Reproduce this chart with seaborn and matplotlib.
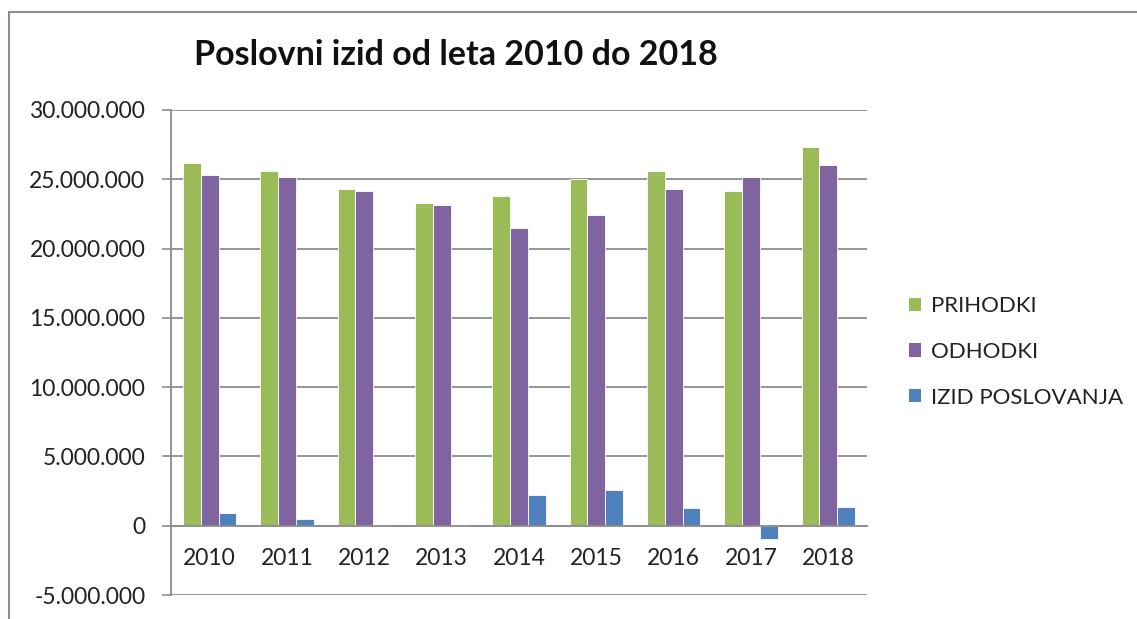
import pandas as pd
import matplotlib.pyplot as plt
import seaborn as sns
from matplotlib.lines import Line2D
from matplotlib.patches import Patch
from matplotlib.ticker import FuncFormatter, MultipleLocator

# Données
years = ['2010', '2011', '2012', '2013', '2014', '2015', '2016', '2017', '2018']
prihodki = [26200000, 25600000, 24300000, 23300000, 23800000, 25000000, 25600000, 24150000, 27300000]
odhodki = [25300000, 25200000, 24150000, 23130000, 21500000, 22400000, 24300000, 25200000, 26000000]
izid = [900000, 450000, 80000, 80000, 2200000, 2550000, 1250000, -950000, 1330000]
series = ['PRIHODKI', 'ODHODKI', 'IZID POSLOVANJA']
colors = ['#9BBB59', '#8064A2', '#4F81BD']

df = pd.DataFrame({'Leto': years * 3,
                   'Serija': [s for s in series for _ in years],
                   'Vrednost': prihodki + odhodki + izid})

sns.set_theme(style="white")
plt.rcParams['font.family'] = ['Lato', 'DejaVu Sans']

fig = plt.figure(figsize=(11.37, 6.19), dpi=100)
ax = fig.add_axes([171 / 1137, 24 / 619, 696 / 1137, 485 / 619])

sns.barplot(data=df, x='Leto', y='Vrednost', hue='Serija', palette=colors, saturation=1,
            width=0.69, gap=0, edgecolor='white', linewidth=0.6, ax=ax, legend=False)

# Axe Y
ax.set_ylim(-5000000, 30000000)
ax.yaxis.set_major_locator(MultipleLocator(5000000))
ax.yaxis.set_major_formatter(FuncFormatter(lambda v, p: f'{int(v):,}'.replace(',', '.')))
ax.grid(axis='y', color='#8c8c8c', linewidth=1.3)
ax.set_axisbelow(True)
ax.tick_params(axis='y', which='major', length=6.5, width=1.2, color='#8c8c8c',
               labelsize=16.5, labelcolor='#222222', pad=12, left=True)

# Axe X sur la ligne 0
ax.set_xlim(-0.5, len(years) - 0.5)
ax.spines['bottom'].set_position(('data', 0))
ax.set_xticks([i + 0.5 for i in range(len(years))], minor=True)
ax.tick_params(axis='x', which='minor', length=6, width=1.2, color='#8c8c8c', direction='out')
ax.tick_params(axis='x', which='major', length=0, labelsize=16.5, labelcolor='#222222', pad=16)
ax.set_xlabel('')
ax.set_ylabel('')

for side in ['top', 'right']:
    ax.spines[side].set_visible(False)
for side in ['left', 'bottom']:
    ax.spines[side].set_color('#8c8c8c')
    ax.spines[side].set_linewidth(1.3)

# Titre
fig.text(456 / 1137, 1 - 55 / 619, 'Poslovni izid od leta 2010 do 2018',
         ha='center', va='center', fontsize=24.5, fontweight='bold', color='#111111')

# Légende
handles = [Patch(facecolor=c, edgecolor='none') for c in colors]
fig.legend(handles, series, loc='center left', bbox_to_anchor=(898 / 1137, 1 - 352 / 619),
           frameon=False, fontsize=16, handlelength=0.55, handleheight=0.55,
           handletextpad=0.45, labelspacing=1.15, labelcolor='#222222', borderpad=0)

# Cadre du graphique
fig.add_artist(Line2D([9 / 1137, 9 / 1137], [0, 1 - 12 / 619], color='#8c8c8c', linewidth=1.5))
fig.add_artist(Line2D([9 / 1137, 1], [1 - 12 / 619, 1 - 12 / 619], color='#8c8c8c', linewidth=1.5))

plt.savefig('out.png', dpi=100)
plt.close()
